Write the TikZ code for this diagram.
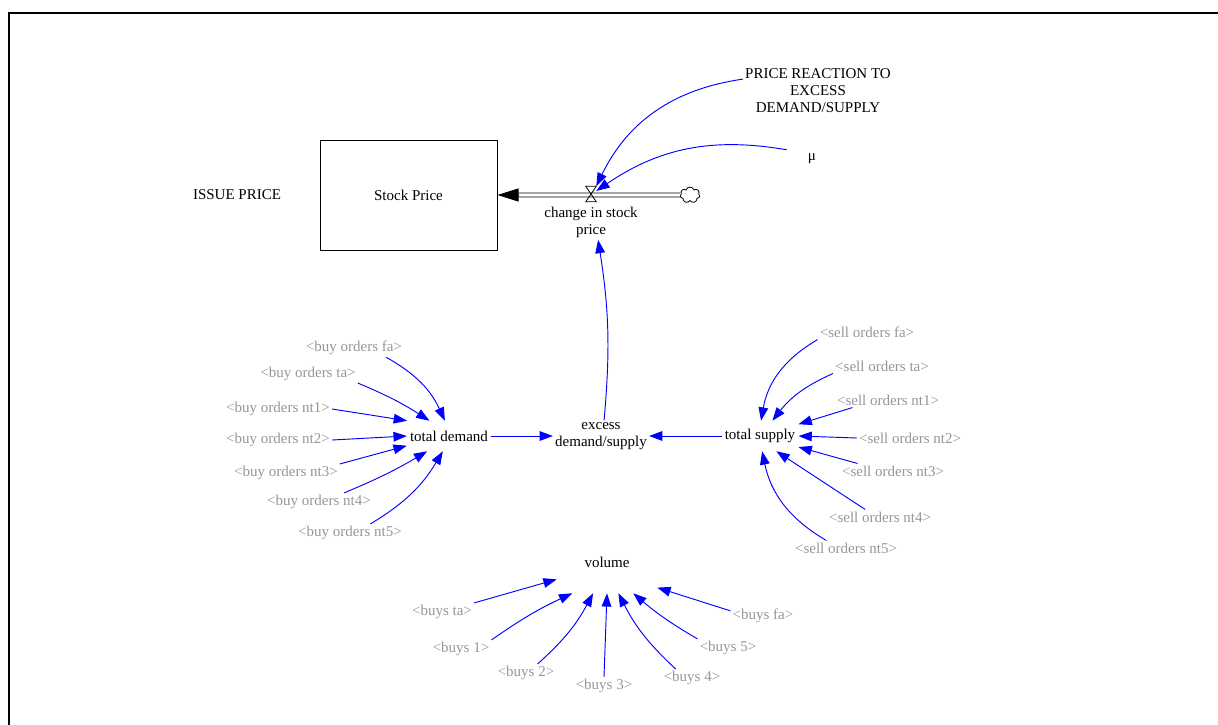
\documentclass[tikz,border=0pt]{standalone}
\usepackage{fontspec}
\setmainfont{Liberation Serif}
\usepackage{xcolor}
\usepackage{tikz}
\usetikzlibrary{positioning, shapes.symbols, arrows.meta}
\definecolor{vsBlue}{RGB}{0, 0, 255}
\definecolor{vsGray}{RGB}{150, 150, 150}
\tikzset{
    base/.style={
        font=\fontsize{11.25}{12.75}\selectfont,
        align=center,
        inner sep=1.5pt
    },
    level/.style={
        base,
        rectangle,
        draw=black,
        line width=0.75pt,
        minimum width=132.75pt,
        minimum height=82.5pt
    },
    aux/.style={
        base,
        text=black
    },
    ghost/.style={
        base,
        text=vsGray
    },
    hub/.style={
        aux,
        inner xsep=2.25pt,
        minimum height=22.5pt
    },
    valve/.style={
        rectangle,
        inner sep=0pt,
        minimum width=7.5pt,
        minimum height=11.25pt
    },
    source/.style={
        cloud,
        draw=black,
        fill=white,
        line width=0.6pt,
        cloud puffs=7,
        aspect=1.3,
        inner sep=0pt,
        minimum width=15pt,
        minimum height=12pt
    },
    link/.style={
        -{Triangle[length=10pt, width=7.25pt]},
        color=vsBlue,
        line width=0.7pt
    },
    pipe/.style={
        draw=black,
        line width=0.6pt,
        double=white,
        double distance=2.4pt
    },
    pipehead/.style={
        -{Triangle[length=15.75pt, width=9.75pt]},
        color=black,
        line width=0.6pt
    }
}

\begin{document}
\begin{tikzpicture}[x=0.75pt, y=-0.75pt]
  \useasboundingbox (0,0) rectangle (1218,725);
  \draw[line width=1.5pt] (8.5,725) -- (8.5,12.5) -- (1218,12.5);

  % Stock and flow
  \node[aux] (issue) at (237,195) {ISSUE PRICE};
  \node[level] (stock) at (408.5,195) {Stock Price};
  \node[valve] (valve) at (591,194) {};
  \node[source] (src) at (690,195) {};
  \node[aux, below=2.2pt of valve] (csp) {change in stock\\price};
  \node[aux] (prt) at (818,91) {PRICE REACTION TO\\EXCESS\\DEMAND/SUPPLY};
  \node[aux, minimum width=37.5pt, minimum height=15pt] (mu) at (812,159) {μ};

  \draw[pipe, shorten >=15.75pt] (src.west) -- (stock.east);
  \draw[pipehead] ([xshift=15.75pt]stock.east) -- (stock.east);
  \draw[line width=0.6pt] (valve.north west) -- (valve.north east) -- (valve.south west) -- (valve.south east) -- cycle;

  % Demand and supply
  \node[aux] (excess) at (601,436) {excess\\demand/supply};
  \node[hub] (td) at (449,436) {total demand};
  \node[hub] (ts) at (760,436) {total supply};

  \node[ghost] (bfa) at (354,348) {<buy orders fa>};
  \node[ghost] (bta) at (308,374) {<buy orders ta>};
  \node[ghost] (bnt1) at (278,409) {<buy orders nt1>};
  \node[ghost] (bnt2) at (278,440) {<buy orders nt2>};
  \node[ghost] (bnt3) at (286,473) {<buy orders nt3>};
  \node[ghost] (bnt4) at (319,502) {<buy orders nt4>};
  \node[ghost] (bnt5) at (350,533) {<buy orders nt5>};

  \node[ghost] (sfa) at (867,332) {<sell orders fa>};
  \node[ghost] (sta) at (882,366) {<sell orders ta>};
  \node[ghost] (snt1) at (888,400) {<sell orders nt1>};
  \node[ghost] (snt2) at (910,438) {<sell orders nt2>};
  \node[ghost] (snt3) at (893,471) {<sell orders nt3>};
  \node[ghost] (snt4) at (880,517) {<sell orders nt4>};
  \node[ghost] (snt5) at (846,548) {<sell orders nt5>};

  % Volume
  \node[aux, minimum width=75pt, minimum height=46.5pt] (volume) at (607,562) {volume};
  \node[ghost] (bysta) at (442,612) {<buys ta>};
  \node[ghost] (bys1) at (461,649) {<buys 1>};
  \node[ghost] (bys2) at (526,673) {<buys 2>};
  \node[ghost] (bys3) at (604,686) {<buys 3>};
  \node[ghost] (bys4) at (692,678) {<buys 4>};
  \node[ghost] (bys5) at (728,648) {<buys 5>};
  \node[ghost] (bysfa) at (763,616) {<buys fa>};

  % Connections
  \draw[link] (prt.171) to[bend right=28] (valve.north east);
  \draw[link] (mu.160) to[bend right=22] (valve.30);
  \draw[link] (excess.79) to[bend right=7] (csp.-68);
  \draw[link] (td) -- (excess);
  \draw[link] (ts) -- (excess);

  \draw[link] (bfa.-16) to[bend left=18] (td.105);
  \draw[link] (bta.south east) to[bend left=5] (td.142);
  \draw[link] (bnt1.east) -- (td.160);
  \draw[link] (bnt2.east) -- (td.west);
  \draw[link] (bnt3.north east) -- (td.193);
  \draw[link] (bnt4.20) to[bend right=4] (td.215);
  \draw[link] (bnt5.24) to[bend right=14] (td.248);

  \draw[link] (sfa.south west) to[bend right=25] (ts.86);
  \draw[link] (sta.south west) to[bend right=14] (ts.51);
  \draw[link] (snt1.192) -- (ts.17);
  \draw[link] (snt2.west) -- (ts.east);
  \draw[link] (snt3.168) -- (ts.-16);
  \draw[link] (snt4.153) -- (ts.-43);
  \draw[link] (snt5.159) to[bend left=24] (ts.-82);

  \draw[link] (bysta.north east) -- (volume.199);
  \draw[link] (bys1.north east) to[bend left=5] (volume.222);
  \draw[link] (bys2.38) to[bend right=10] (volume.246);
  \draw[link] (bys3.north) -- (volume.south);
  \draw[link] (bys4.151) to[bend left=10] (volume.-70);
  \draw[link] (bys5.north west) to[bend left=5] (volume.-50);
  \draw[link] (bysfa.171) -- (volume.-27);
\end{tikzpicture}
\end{document}
